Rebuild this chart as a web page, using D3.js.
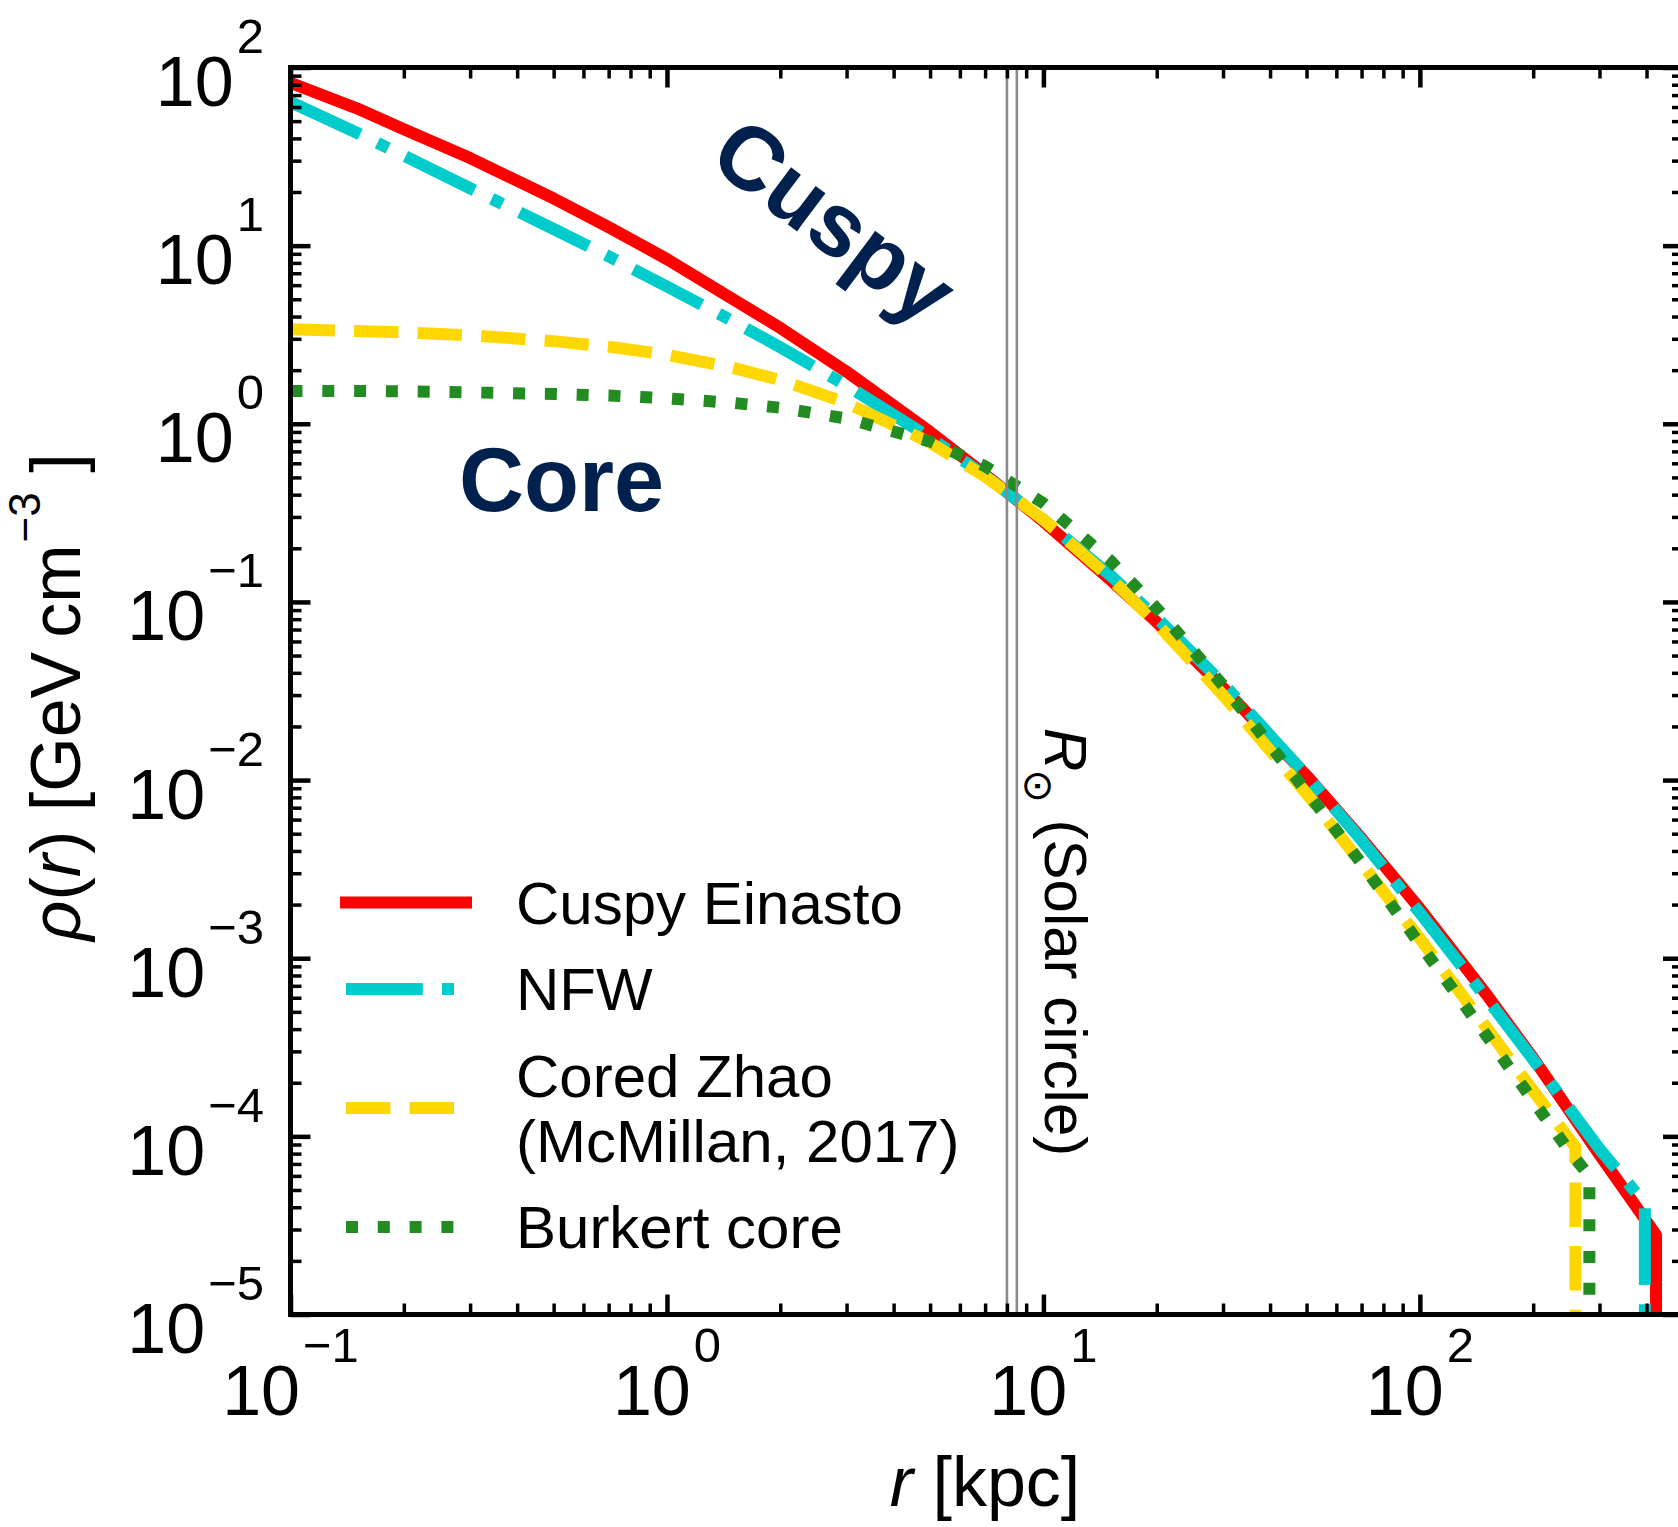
<!DOCTYPE html>
<html>
<head>
<meta charset="utf-8">
<script src="https://cdn.jsdelivr.net/npm/d3@7"></script>
<style>
  html, body { margin: 0; padding: 0; background: #fff; }
  svg { display: block; }
  text { font-family: "Liberation Sans", Arial, sans-serif; fill: #000; }
</style>
</head>
<body>
<svg id="chart" width="1678" height="1527"></svg>
<script>
// ---- data -------------------------------------------------------------
// Galactocentric radius grid in kpc, shared by the inner part of every profile
const radii = [0.1, 0.15, 0.2, 0.3, 0.5, 0.7, 1, 1.5, 2, 3, 5, 7, 10, 15, 20, 30, 50, 70, 100, 150, 200];

// Dark-matter density in GeV cm^-3 on the grid above
const einastoRho  = [82, 59, 45, 31, 18.4, 12.7, 8.4, 5.0, 3.45, 1.96, 0.90, 0.52, 0.283, 0.134, 0.077, 0.033, 0.0106, 0.0047, 0.0019, 6.3e-4, 2.75e-4];
const nfwRho      = [64, 43, 32, 21, 12.4, 8.7, 5.9, 3.76, 2.69, 1.64, 0.835, 0.511, 0.29, 0.142, 0.0815, 0.0348, 0.0106, 0.0046, 0.0018, 6.0e-4, 2.7e-4];
const zhaoRho     = [3.39, 3.32, 3.26, 3.14, 2.91, 2.71, 2.44, 2.06, 1.76, 1.31, 0.784, 0.506, 0.29, 0.137, 0.0756, 0.030, 0.0084, 0.0034, 0.00129, 4.1e-4, 1.8e-4];
const burkertRho  = [1.53, 1.53, 1.52, 1.50, 1.47, 1.44, 1.39, 1.31, 1.23, 1.07, 0.795, 0.578, 0.358, 0.172, 0.092, 0.034, 0.0086, 0.0034, 0.0012, 3.7e-4, 1.58e-4];

// Outer tails: [r, rho] up to each halo's truncation radius, then the cut-off
const einastoTail = [[300, 7.9e-5], [424, 2.8e-5], [424, 1e-7]];
const nfwTail     = [[300, 8.5e-5], [396, 4.2e-5], [396, 1e-7]];
const zhaoTail    = [[259, 8.7e-5], [259, 1e-7]];
const burkertTail = [[250, 8.2e-5], [282, 6.0e-5], [282, 1e-7]];

// Solar circle (kpc)
const solarRadii = [8.0, 8.5];

// Axis ticks
const xTickValues = [0.1, 1, 10, 100];
const xTickExponents = ["\u22121", "0", "1", "2"];
const yTickValues = [1e-5, 1e-4, 1e-3, 1e-2, 1e-1, 1, 10, 100];
const yTickExponents = ["\u22125", "\u22124", "\u22123", "\u22122", "\u22121", "0", "1", "2"];

// Legend text, one list of lines per profile
const legendLabels = [["Cuspy Einasto"], ["NFW"], ["Cored Zhao", "(McMillan, 2017)"], ["Burkert core"]];

// ---- styling ----------------------------------------------------------
const LW = 12;
const styles = [
  { color: "#ff0000", dash: null,                                   cap: "square" },
  { color: "#00cccc", dash: [6.4, 1.6, 1, 1.6].map(v => v * LW),    cap: "butt" },
  { color: "#ffd700", dash: [3.7, 1.6].map(v => v * LW),            cap: "butt" },
  { color: "#228b22", dash: [1, 1.65].map(v => v * LW),             cap: "butt" }
];
const navy = "#00204e";

// ---- layout -----------------------------------------------------------
const plot = { left: 290.5, right: 1683, top: 67.5, bottom: 1314.5 };

const x = d3.scaleLog().domain([0.1, 500]).range([plot.left, plot.right]);
const y = d3.scaleLog().domain([1e-5, 1e2]).range([plot.bottom, plot.top]);

const svg = d3.select("#chart");

svg.append("defs").append("clipPath").attr("id", "plotClip")
  .append("rect")
  .attr("x", plot.left).attr("y", plot.top)
  .attr("width", plot.right - plot.left).attr("height", plot.bottom - plot.top);

// ---- curves -----------------------------------------------------------
const profiles = [
  radii.map((r, i) => [r, einastoRho[i]]).concat(einastoTail),
  radii.map((r, i) => [r, nfwRho[i]]).concat(nfwTail),
  radii.map((r, i) => [r, zhaoRho[i]]).concat(zhaoTail),
  radii.map((r, i) => [r, burkertRho[i]]).concat(burkertTail)
];

const line = d3.line().x(d => x(d[0])).y(d => y(d[1]));

const curves = svg.append("g").attr("clip-path", "url(#plotClip)");
profiles.forEach((pts, i) => {
  const s = styles[i];
  curves.append("path")
    .attr("d", line(pts))
    .attr("fill", "none")
    .attr("stroke", s.color)
    .attr("stroke-width", LW)
    .attr("stroke-linejoin", "round")
    .attr("stroke-linecap", s.cap)
    .attr("stroke-dasharray", s.dash ? s.dash.join(",") : null);
});

// Solar circle markers
curves.selectAll("line.solar").data(solarRadii).enter().append("line")
  .attr("class", "solar")
  .attr("x1", d => x(d)).attr("x2", d => x(d))
  .attr("y1", plot.top).attr("y2", plot.bottom)
  .attr("stroke", "#8a8a8a").attr("stroke-width", 2.6);

// ---- axes: inward ticks on all four sides ----------------------------
const xMinor = x.ticks().filter(v => !xTickValues.includes(v) && v > 0.1 && v < 500);
const yMinor = y.ticks().filter(v => !yTickValues.some(t => Math.abs(t - v) / v < 1e-9));

function styleAxis(g, width) {
  g.select(".domain").remove();
  g.selectAll(".tick line").attr("stroke", "#000").attr("stroke-width", width);
  g.selectAll(".tick text").remove();
}

const axes = svg.append("g");
[
  [d3.axisBottom, `translate(0,${plot.bottom})`, x, "x"],
  [d3.axisTop,    `translate(0,${plot.top})`,    x, "x"],
  [d3.axisLeft,   `translate(${plot.left},0)`,   y, "y"],
  [d3.axisRight,  `translate(${plot.right},0)`,  y, "y"]
].forEach(([axisFn, tr, scale, dim]) => {
  const major = dim === "x" ? xTickValues : yTickValues;
  const minor = dim === "x" ? xMinor : yMinor;
  axes.append("g").attr("transform", tr)
    .call(axisFn(scale).tickValues(minor).tickSizeInner(-11).tickSizeOuter(0).tickFormat(""))
    .call(g => styleAxis(g, 3.5));
  axes.append("g").attr("transform", tr)
    .call(axisFn(scale).tickValues(major).tickSizeInner(-20).tickSizeOuter(0).tickFormat(""))
    .call(g => styleAxis(g, 4.5));
});

// frame
svg.append("rect")
  .attr("x", plot.left).attr("y", plot.top)
  .attr("width", plot.right - plot.left).attr("height", plot.bottom - plot.top)
  .attr("fill", "none").attr("stroke", "#000").attr("stroke-width", 5);

// ---- tick labels (10 with superscript exponent) -----------------------
function powerLabel(sel, exp) {
  sel.append("tspan").text("10");
  sel.append("tspan").attr("dx", 3).attr("dy", -53).attr("font-size", 49).text(exp);
}

xTickValues.forEach((v, i) => {
  const t = svg.append("text")
    .attr("x", x(v)).attr("y", plot.bottom + 100)
    .attr("text-anchor", "middle").attr("font-size", 70);
  powerLabel(t, xTickExponents[i]);
});

yTickValues.forEach((v, i) => {
  const t = svg.append("text")
    .attr("x", 264).attr("y", y(v) + 38.5)
    .attr("text-anchor", "end").attr("font-size", 70);
  powerLabel(t, yTickExponents[i]);
});

// ---- axis titles ------------------------------------------------------
const xt = svg.append("text")
  .attr("x", 985).attr("y", 1506)
  .attr("text-anchor", "middle").attr("font-size", 70);
xt.append("tspan").attr("font-style", "italic").text("r");
xt.append("tspan").text(" [kpc]");

const yt = svg.append("text")
  .attr("transform", "translate(80,697) rotate(-90)")
  .attr("text-anchor", "middle").attr("font-size", 70);
yt.append("tspan").attr("font-style", "italic").text("\u03c1");
yt.append("tspan").text("(");
yt.append("tspan").attr("font-style", "italic").text("r");
yt.append("tspan").text(") [GeV\u2009cm");
yt.append("tspan").attr("dx", 2).attr("dy", -40).attr("font-size", 44).text("\u22123");
yt.append("tspan").attr("dy", 40).text(" ]");

// ---- annotations ------------------------------------------------------
svg.append("text")
  .attr("transform", "translate(706,163) rotate(37)")
  .attr("font-family", "Lato, 'Open Sans', sans-serif")
  .attr("font-weight", 700).attr("font-size", 90)
  .style("fill", navy)
  .text("Cuspy");

svg.append("text")
  .attr("x", 459).attr("y", 511)
  .attr("font-family", "Lato, 'Open Sans', sans-serif")
  .attr("font-weight", 700).attr("font-size", 90)
  .style("fill", navy)
  .text("Core");

const sol = svg.append("text")
  .attr("transform", "translate(1045,728) rotate(90)")
  .attr("font-size", 60);
sol.append("tspan").attr("font-style", "italic").text("R");
sol.append("tspan").attr("dx", -2).attr("dy", 20).attr("font-size", 40)
  .style("font-family", "'DejaVu Sans', sans-serif").text("\u2299");
sol.append("tspan").attr("dy", -20).text(" (Solar circle)");

// ---- legend -----------------------------------------------------------
const lineHeight = 65, rowGap = 21.5;
const handle = { x0: 346, x1: 466, textX: 516 };
let cursor = 902.5 - lineHeight / 2;
const legend = svg.append("g");
legendLabels.forEach((lines, i) => {
  const h = lines.length * lineHeight;
  const cy = cursor + h / 2;
  const s = styles[i];
  legend.append("line")
    .attr("x1", handle.x0).attr("x2", handle.x1)
    .attr("y1", cy).attr("y2", cy)
    .attr("stroke", s.color).attr("stroke-width", LW)
    .attr("stroke-linecap", s.cap)
    .attr("stroke-dasharray", s.dash ? s.dash.join(",") : null);
  lines.forEach((txt, j) => {
    legend.append("text")
      .attr("x", handle.textX)
      .attr("y", cursor + j * lineHeight + lineHeight / 2 + 21)
      .attr("font-size", 60)
      .text(txt);
  });
  cursor += h + rowGap;
});
</script>
</body>
</html>
